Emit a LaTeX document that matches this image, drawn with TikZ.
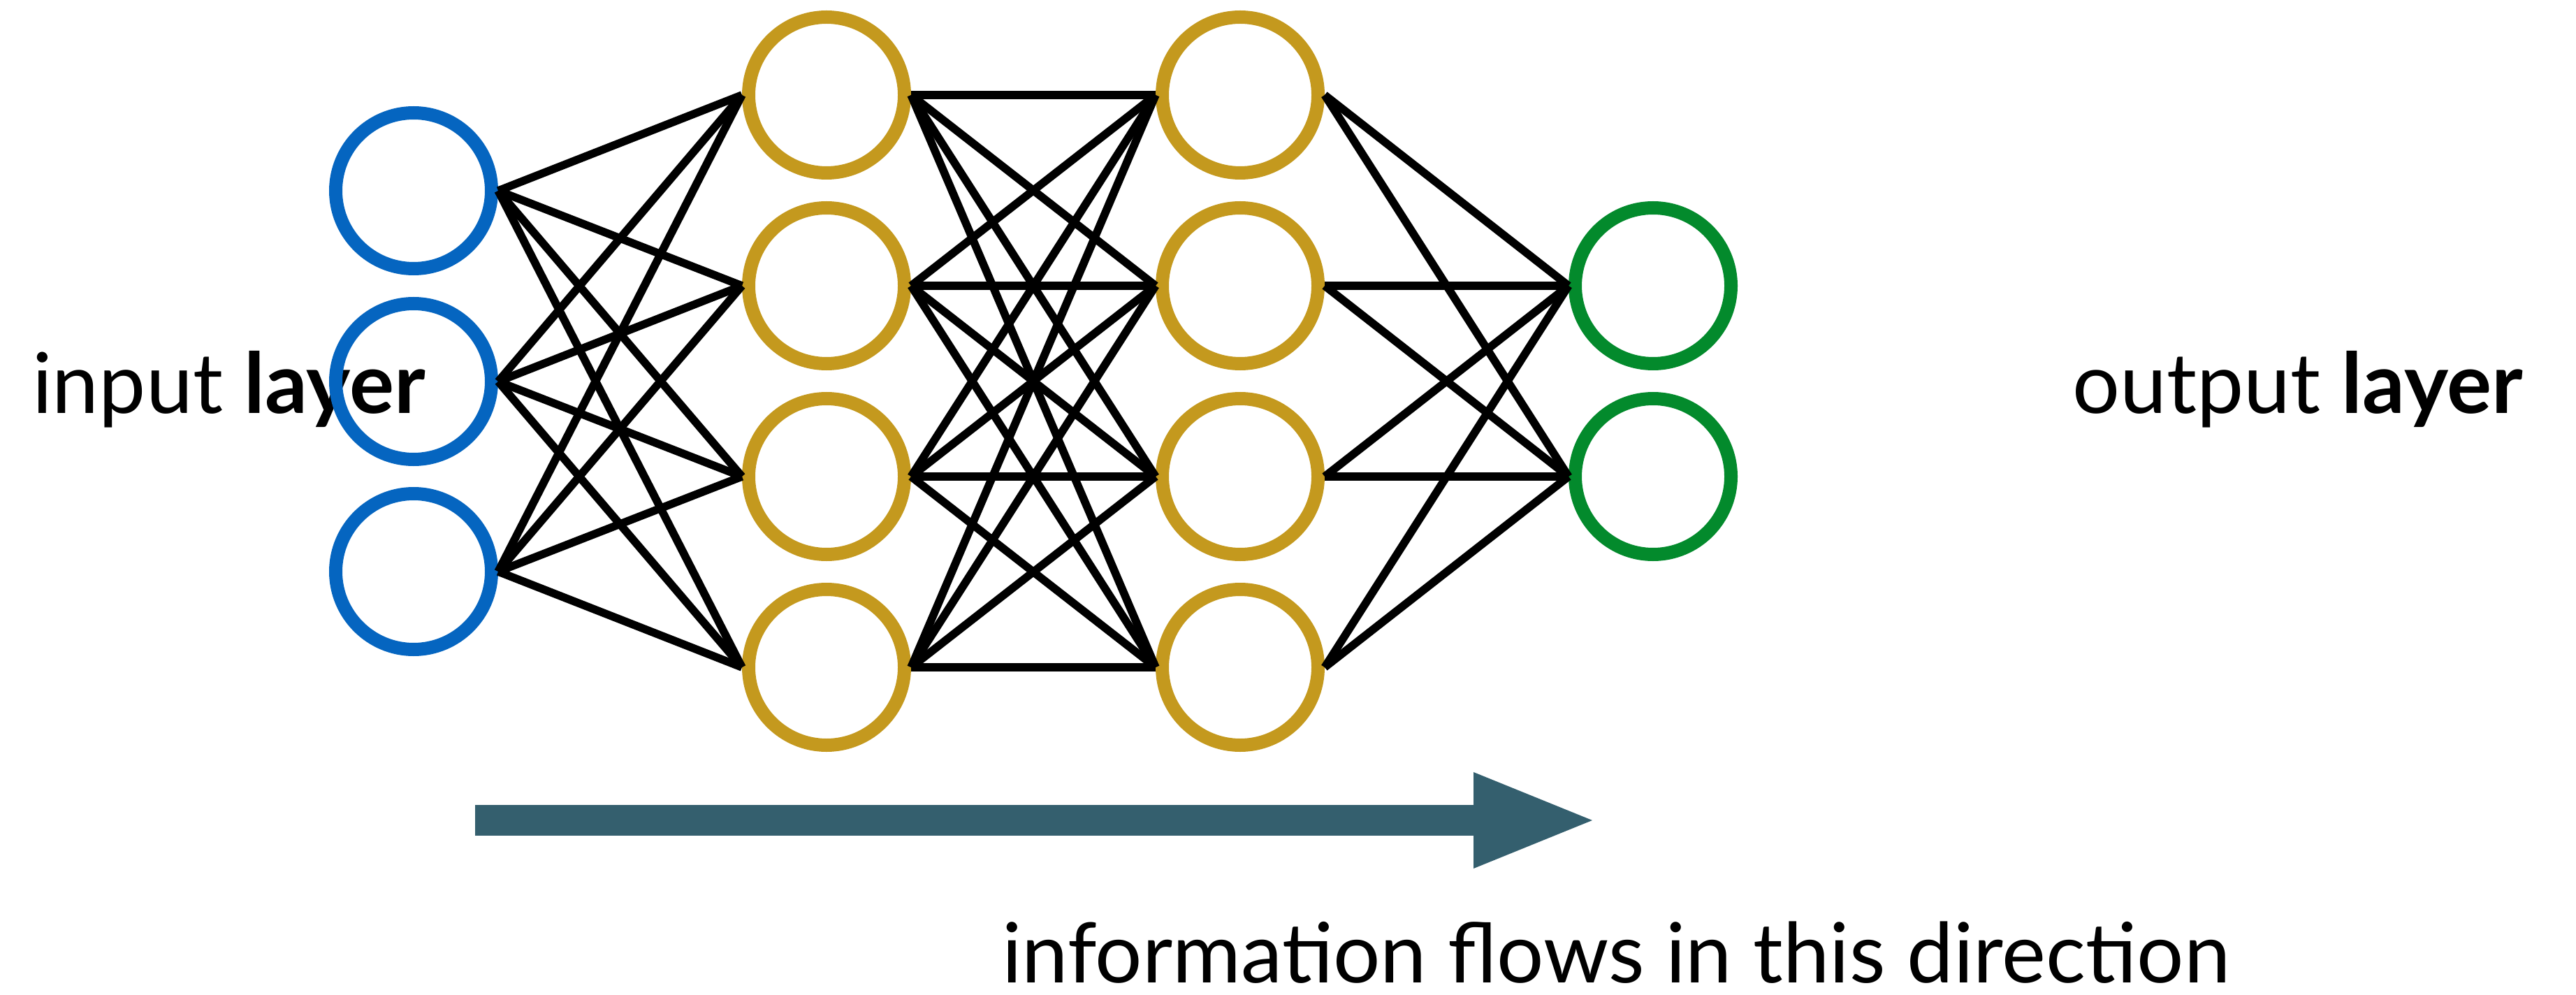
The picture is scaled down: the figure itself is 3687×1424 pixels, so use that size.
\documentclass[tikz,border=0pt]{standalone}
\usepackage{fontspec}
\setmainfont{Lato}
\usetikzlibrary{arrows.meta}
\definecolor{inblue}{RGB}{5,101,192}
\definecolor{hidgold}{RGB}{196,153,30}
\definecolor{outgreen}{RGB}{3,138,44}
\definecolor{flowteal}{RGB}{52,95,110}
\begin{document}
\begin{tikzpicture}[x=0.2pt,y=-0.2pt,
    neuron/.style={circle,minimum size=44.6pt,inner sep=0pt,line width=3.8pt},
    innode/.style={neuron,draw=inblue},
    hidnode/.style={neuron,draw=hidgold},
    outnode/.style={neuron,draw=outgreen},
    words/.style={anchor=base west,inner sep=0pt,font=\fontsize{24}{28}\selectfont}]
      \useasboundingbox (0,0) rectangle (3687,1424);
      \draw
        (45,591) node[words] (intext){input \textbf{layer}}
        (2965,591) node[words] (outtext){output \textbf{layer}}
        (1433,1406) node[words,font=\fontsize{23.8}{28}\selectfont] (flowtext){information flows in this direction};
      \draw
        (592,273) node[innode] (i1){}
        (592,546) node[innode] (i2){}
        (592,818) node[innode] (i3){}
        (1183,136) node[hidnode] (h1){}
        (1183,409) node[hidnode] (h2){}
        (1183,682) node[hidnode] (h3){}
        (1183,955) node[hidnode] (h4){}
        (1775,136) node[hidnode] (g1){}
        (1775,409) node[hidnode] (g2){}
        (1775,682) node[hidnode] (g3){}
        (1775,955) node[hidnode] (g4){}
        (2366,409) node[outnode] (o1){}
        (2366,682) node[outnode] (o2){};
      \begin{scope}[line width=2.3pt]
        \draw (i1.east) to (h1.west);
        \draw (i1.east) to (h2.west);
        \draw (i1.east) to (h3.west);
        \draw (i1.east) to (h4.west);
        \draw (i2.east) to (h1.west);
        \draw (i2.east) to (h2.west);
        \draw (i2.east) to (h3.west);
        \draw (i2.east) to (h4.west);
        \draw (i3.east) to (h1.west);
        \draw (i3.east) to (h2.west);
        \draw (i3.east) to (h3.west);
        \draw (i3.east) to (h4.west);
        \draw (h1.east) to (g1.west);
        \draw (h1.east) to (g2.west);
        \draw (h1.east) to (g3.west);
        \draw (h1.east) to (g4.west);
        \draw (h2.east) to (g1.west);
        \draw (h2.east) to (g2.west);
        \draw (h2.east) to (g3.west);
        \draw (h2.east) to (g4.west);
        \draw (h3.east) to (g1.west);
        \draw (h3.east) to (g2.west);
        \draw (h3.east) to (g3.west);
        \draw (h3.east) to (g4.west);
        \draw (h4.east) to (g1.west);
        \draw (h4.east) to (g2.west);
        \draw (h4.east) to (g3.west);
        \draw (h4.east) to (g4.west);
        \draw (g1.east) to (o1.west);
        \draw (g1.east) to (o2.west);
        \draw (g2.east) to (o1.west);
        \draw (g2.east) to (o2.west);
        \draw (g3.east) to (o1.west);
        \draw (g3.east) to (o2.west);
        \draw (g4.east) to (o1.west);
        \draw (g4.east) to (o2.west);
      \end{scope}
      \coordinate (flowtail) at (680,1174);
      \coordinate (flowhead) at (2279,1174);
      \draw[flowteal,line width=8.8pt,-{Triangle[length=34pt,width=27.6pt,line width=0pt]}] (flowtail) -- (flowhead);
    \end{tikzpicture}
\end{document}
